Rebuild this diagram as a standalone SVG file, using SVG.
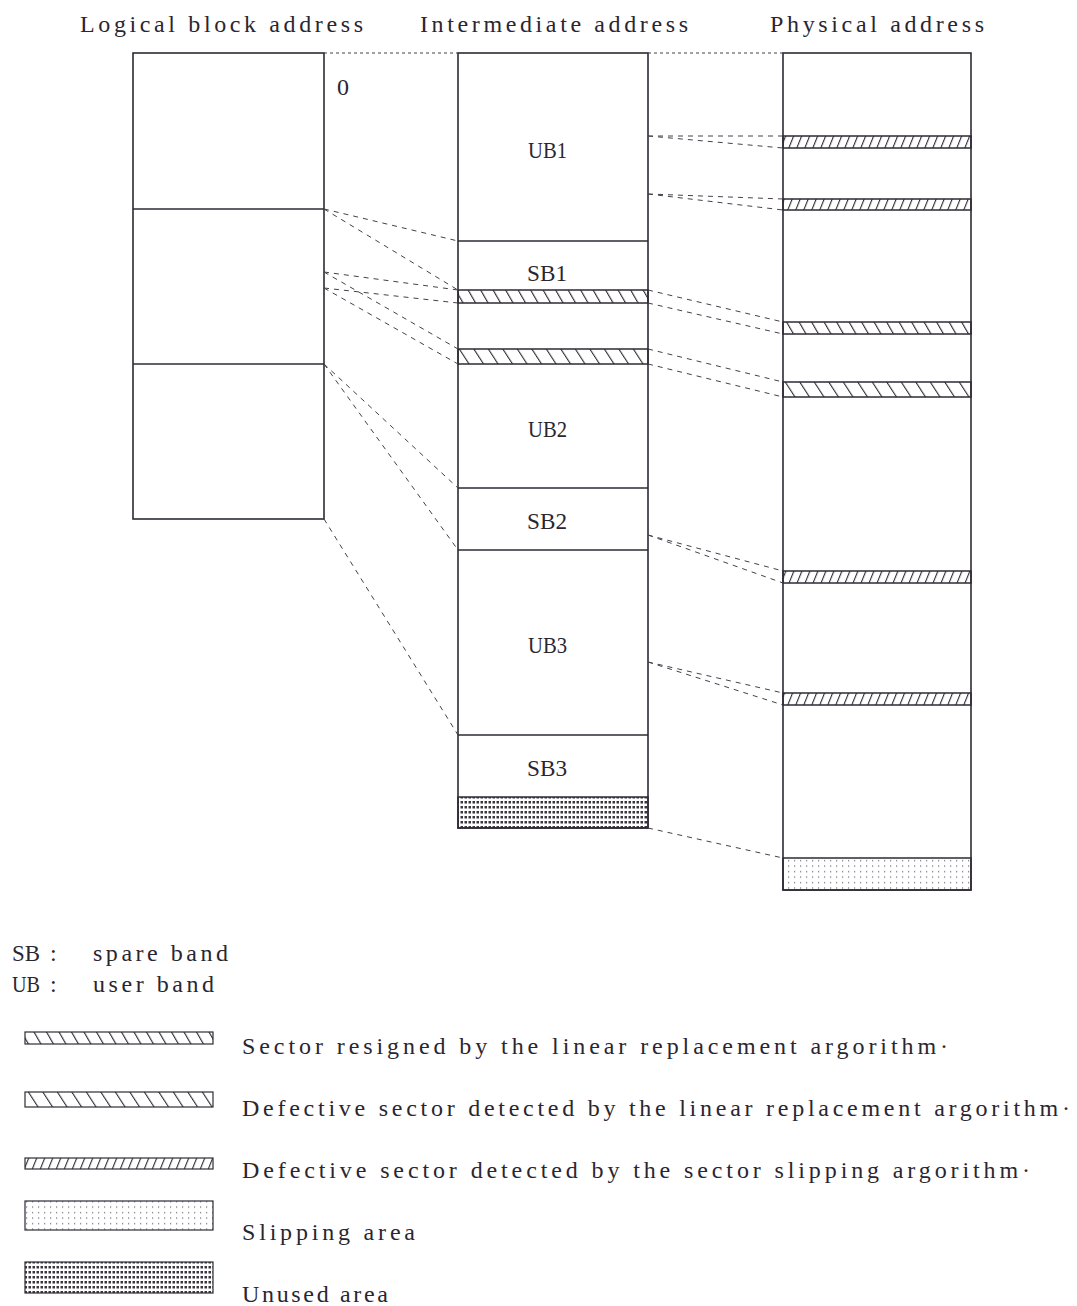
<svg xmlns="http://www.w3.org/2000/svg" width="1077" height="1306" viewBox="0 0 1077 1306">
<style>
  text { font-family: "Liberation Serif", "Times New Roman", serif; font-size: 24px; fill: #2a2630; }
  .col { fill: none; stroke: #2f2a35; stroke-width: 1.6; }
  .div { stroke: #2f2a35; stroke-width: 1.5; }
  .band { stroke: #2f2a35; stroke-width: 1.5; }
  .conn line { stroke: #45404b; stroke-width: 1; stroke-dasharray: 5 5; fill: none; }
  .top { stroke-dasharray: 3 3 !important; }
  .lg { stroke: #2f2a35; stroke-width: 1.2; }
</style>
<defs>
  <pattern id="hatchA" width="12.5" height="10" patternUnits="userSpaceOnUse" patternTransform="skewX(30)">
    <rect x="0" y="0" width="1.3" height="10" fill="#2f2a35"/>
  </pattern>
  <pattern id="hatchB" width="14.5" height="10" patternUnits="userSpaceOnUse" patternTransform="skewX(33)">
    <rect x="0" y="0" width="1.3" height="10" fill="#2f2a35"/>
  </pattern>
  <pattern id="hatchC" width="8" height="10" patternUnits="userSpaceOnUse" patternTransform="skewX(-22)">
    <rect x="0" y="0" width="1.2" height="10" fill="#2f2a35"/>
  </pattern>
  <pattern id="slip" width="6" height="5.5" patternUnits="userSpaceOnUse">
    <rect x="2" y="2" width="1.2" height="1.2" fill="#6f6a75"/>
  </pattern>
  <pattern id="unused" width="4" height="5" patternUnits="userSpaceOnUse">
    <rect x="0.5" y="1" width="2.5" height="2.5" fill="#3a3540"/>
  </pattern>
</defs>

<g id="titles">
  <text x="80" y="32" textLength="283" lengthAdjust="spacing">Logical block address</text>
  <text x="420" y="32" textLength="268" lengthAdjust="spacing">Intermediate address</text>
  <text x="770" y="32" textLength="214" lengthAdjust="spacing">Physical address</text>
</g>

<g id="logical">
  <rect class="col" x="133" y="53" width="191" height="466"/>
  <line class="div" x1="133" y1="209" x2="324" y2="209"/>
  <line class="div" x1="133" y1="364" x2="324" y2="364"/>
  <text x="343" y="95" text-anchor="middle">0</text>
</g>

<g id="intermediate">
  <rect x="458" y="290" width="190" height="13" fill="url(#hatchA)" class="band"/>
  <rect x="458" y="349" width="190" height="15" fill="url(#hatchB)" class="band"/>
  <rect x="458" y="797" width="190" height="31" fill="url(#unused)" class="band"/>
  <line class="div" x1="458" y1="241" x2="648" y2="241"/>
  <line class="div" x1="458" y1="488" x2="648" y2="488"/>
  <line class="div" x1="458" y1="550" x2="648" y2="550"/>
  <line class="div" x1="458" y1="735" x2="648" y2="735"/>
  <rect class="col" x="458" y="53" width="190" height="775"/>
  <text x="528" y="158" textLength="39" lengthAdjust="spacingAndGlyphs">UB1</text>
  <text x="527" y="281" textLength="40" lengthAdjust="spacingAndGlyphs">SB1</text>
  <text x="528" y="437" textLength="39" lengthAdjust="spacingAndGlyphs">UB2</text>
  <text x="527" y="529" textLength="40" lengthAdjust="spacingAndGlyphs">SB2</text>
  <text x="528" y="653" textLength="39" lengthAdjust="spacingAndGlyphs">UB3</text>
  <text x="527" y="776" textLength="40" lengthAdjust="spacingAndGlyphs">SB3</text>
</g>

<g id="physical">
  <rect x="783" y="136" width="188" height="12" fill="url(#hatchC)" class="band"/>
  <rect x="783" y="199" width="188" height="11" fill="url(#hatchC)" class="band"/>
  <rect x="783" y="322" width="188" height="12" fill="url(#hatchA)" class="band"/>
  <rect x="783" y="382" width="188" height="15" fill="url(#hatchB)" class="band"/>
  <rect x="783" y="571" width="188" height="12" fill="url(#hatchC)" class="band"/>
  <rect x="783" y="693" width="188" height="12" fill="url(#hatchC)" class="band"/>
  <rect x="783" y="858" width="188" height="32" fill="url(#slip)" class="band"/>
  <rect class="col" x="783" y="53" width="188" height="837"/>
</g>

<g id="connectors" class="conn">
  <line class="top" x1="324" y1="53" x2="458" y2="53"/>
  <line class="top" x1="648" y1="53" x2="783" y2="53"/>
  <line x1="324" y1="209" x2="458" y2="241"/>
  <line x1="324" y1="209" x2="458" y2="290"/>
  <line x1="324" y1="272" x2="458" y2="290"/>
  <line x1="324" y1="272" x2="458" y2="349"/>
  <line x1="324" y1="288" x2="458" y2="303"/>
  <line x1="324" y1="288" x2="458" y2="364"/>
  <line x1="324" y1="364" x2="458" y2="488"/>
  <line x1="324" y1="364" x2="458" y2="550"/>
  <line x1="324" y1="519" x2="458" y2="735"/>
  <line x1="648" y1="136" x2="783" y2="136"/>
  <line x1="648" y1="136" x2="783" y2="148"/>
  <line x1="648" y1="194" x2="783" y2="199"/>
  <line x1="648" y1="194" x2="783" y2="210"/>
  <line x1="648" y1="290" x2="783" y2="322"/>
  <line x1="648" y1="303" x2="783" y2="334"/>
  <line x1="648" y1="349" x2="783" y2="382"/>
  <line x1="648" y1="364" x2="783" y2="397"/>
  <line x1="648" y1="535" x2="783" y2="571"/>
  <line x1="648" y1="535" x2="783" y2="583"/>
  <line x1="648" y1="662" x2="783" y2="693"/>
  <line x1="648" y1="662" x2="783" y2="705"/>
  <line x1="648" y1="828" x2="783" y2="858"/>
</g>

<g id="legend">
  <text x="12" y="961" textLength="28" lengthAdjust="spacingAndGlyphs">SB</text>
  <text x="50" y="961">:</text>
  <text x="93" y="961" textLength="135" lengthAdjust="spacing">spare band</text>
  <text x="12" y="992" textLength="28" lengthAdjust="spacingAndGlyphs">UB</text>
  <text x="50" y="992">:</text>
  <text x="93" y="992" textLength="121" lengthAdjust="spacing">user band</text>

  <rect class="lg" x="25" y="1032" width="188" height="12" fill="url(#hatchA)"/>
  <text x="242" y="1054" textLength="706" lengthAdjust="spacing">Sector resigned by the linear replacement argorithm·</text>
  <rect class="lg" x="25" y="1092" width="188" height="15" fill="url(#hatchB)"/>
  <text x="242" y="1116" textLength="828" lengthAdjust="spacing">Defective sector detected by the linear replacement argorithm·</text>
  <rect class="lg" x="25" y="1158" width="188" height="11" fill="url(#hatchC)"/>
  <text x="242" y="1178" textLength="788" lengthAdjust="spacing">Defective sector detected by the sector slipping argorithm·</text>
  <rect class="lg" x="25" y="1201" width="188" height="29" fill="url(#slip)"/>
  <text x="242" y="1240" textLength="173" lengthAdjust="spacing">Slipping area</text>
  <rect class="lg" x="25" y="1262" width="188" height="31" fill="url(#unused)"/>
  <text x="242" y="1302" textLength="146" lengthAdjust="spacing">Unused area</text>
</g>
</svg>
